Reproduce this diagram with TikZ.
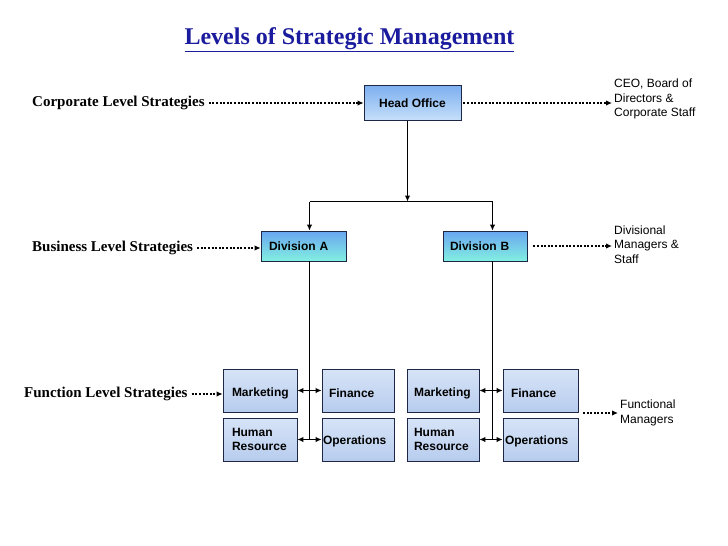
\documentclass[tikz,border=0pt]{standalone}
\usepackage{fontspec}
\setmainfont{Liberation Serif}
\setsansfont{Liberation Sans}
\usetikzlibrary{arrows.meta}
\definecolor{titleblue}{RGB}{27,27,158}
\definecolor{boxline}{RGB}{30,40,70}
\definecolor{htop}{RGB}{125,175,240}
\definecolor{hbot}{RGB}{198,224,250}
\definecolor{dtop}{RGB}{105,165,240}
\definecolor{dbot}{RGB}{130,240,225}
\definecolor{ftop}{RGB}{215,228,247}
\definecolor{fbot}{RGB}{183,204,238}
\begin{document}
\begin{tikzpicture}[x=1pt,y=-1pt,
  box/.style={draw=boxline, line width=0.8pt, inner ysep=0pt,
    font=\sffamily\bfseries\fontsize{12}{14.5}\selectfont},
  fbox/.style={box, top color=ftop, bottom color=fbot, minimum height=43pt, align=left},
  dbox/.style={box, top color=dtop, bottom color=dbot, minimum height=30pt, align=left},
  hbox/.style={box, top color=htop, bottom color=hbot, minimum height=35pt, minimum width=97pt, inner xsep=0pt},
  lbl/.style={font=\bfseries\fontsize{15}{17}\selectfont, inner sep=2pt},
  rtxt/.style={font=\sffamily\fontsize{12}{14.5}\selectfont, align=left, inner sep=2pt},
  line/.style={line width=1.1pt, black},
  arr/.style={line, -{Latex[length=6pt,width=5.5pt]}},
  darr/.style={line, {Latex[length=6pt,width=5.5pt]}-{Latex[length=6pt,width=5.5pt]}},
  dotarr/.style={line width=2pt, dash pattern=on 2pt off 1.6pt, -{Latex[length=6pt,width=5.5pt]}}
]
\useasboundingbox (0,0) rectangle (728,546);

% title
\node[font=\bfseries\fontsize{24}{28}\selectfont, text=titleblue] (title) at (349.5,40) {\underline{Levels of Strategic Management}};

% head office and divisions
\node[hbox] (head) at (412.5,103) {Head Office};
\node[dbox, text width=69pt, inner xsep=8pt] (divA) at (303.5,246) {Division A};
\node[dbox, text width=70pt, inner xsep=7pt] (divB) at (485,246) {Division B};

% function boxes
\node[fbox, text width=56pt, inner xsep=9pt] (mktA) at (260,390.5) {\rule{0pt}{14pt}Marketing};
\node[fbox, text width=58pt, inner xsep=7pt] (finA) at (358,390.5) {\rule{0pt}{14pt}Finance};
\node[fbox, text width=56pt, inner xsep=9pt] (hrA) at (260,439.5) {Human\\Resource};
\node[fbox, text width=70pt, inner xsep=1pt] (opsA) at (358,439.5) {\rule{0pt}{13pt}Operations};
\node[fbox, text width=58pt, inner xsep=7pt] (mktB) at (443,390.5) {\rule{0pt}{14pt}Marketing};
\node[fbox, text width=59pt, inner xsep=8pt] (finB) at (540.5,390.5) {\rule{0pt}{14pt}Finance};
\node[fbox, text width=58pt, inner xsep=7pt] (hrB) at (443,439.5) {Human\\Resource};
\node[fbox, text width=71pt, inner xsep=2pt] (opsB) at (540.5,439.5) {\rule{0pt}{13pt}Operations};

% left labels
\node[lbl, anchor=west] (corp) at (30,103) {Corporate Level Strategies};
\node[lbl, anchor=west] (bus) at (30,248) {Business Level Strategies};
\node[lbl, anchor=west] (fun) at (22,394) {Function Level Strategies};

% right labels
\node[rtxt, anchor=west] (ceo) at (612,99) {CEO, Board of\\Directors \&\\Corporate Staff};
\node[rtxt, anchor=west] (dv) at (612,244.5) {Divisional\\Managers \&\\Staff};
\node[rtxt, anchor=west] (fm) at (618,413) {Functional\\Managers};

% connectors
\coordinate (hx) at (407.5,201.5);
\coordinate (barL) at (309.5,201.5);
\coordinate (barR) at (492.5,201.5);
\draw[arr] (hx |- head.south) -- (hx);
\draw[line] (barL) -- (barR);
\draw[arr] (barL) -- (barL |- divA.north);
\draw[arr] (barR) -- (barR |- divB.north);
\draw[line] (barL |- divA.south) -- (barL |- hrA.east);
\draw[line] (barR |- divB.south) -- (barR |- hrB.east);
\draw[darr] (mktA.east) -- (finA.west);
\draw[darr] (hrA.east) -- (opsA.west);
\draw[darr] (mktB.east) -- (finB.west);
\draw[darr] (hrB.east) -- (opsB.west);

% dotted arrows
\draw[dotarr, shorten <=2pt] (corp.east) -- (corp.east -| head.west);
\draw[dotarr, shorten <=2pt] (bus.east) -- (bus.east -| divA.west);
\draw[dotarr, shorten <=2pt] (fun.east) -- (fun.east -| mktA.west);
\draw[dotarr, shorten <=2pt] (head.east) -- (head.east -| ceo.west);
\draw[dotarr, shorten <=6pt] (divB.east) -- (divB.east -| dv.west);
\coordinate (fs) at (583,413);
\draw[dotarr] (fs) -- (fs -| fm.west);
\end{tikzpicture}
\end{document}
